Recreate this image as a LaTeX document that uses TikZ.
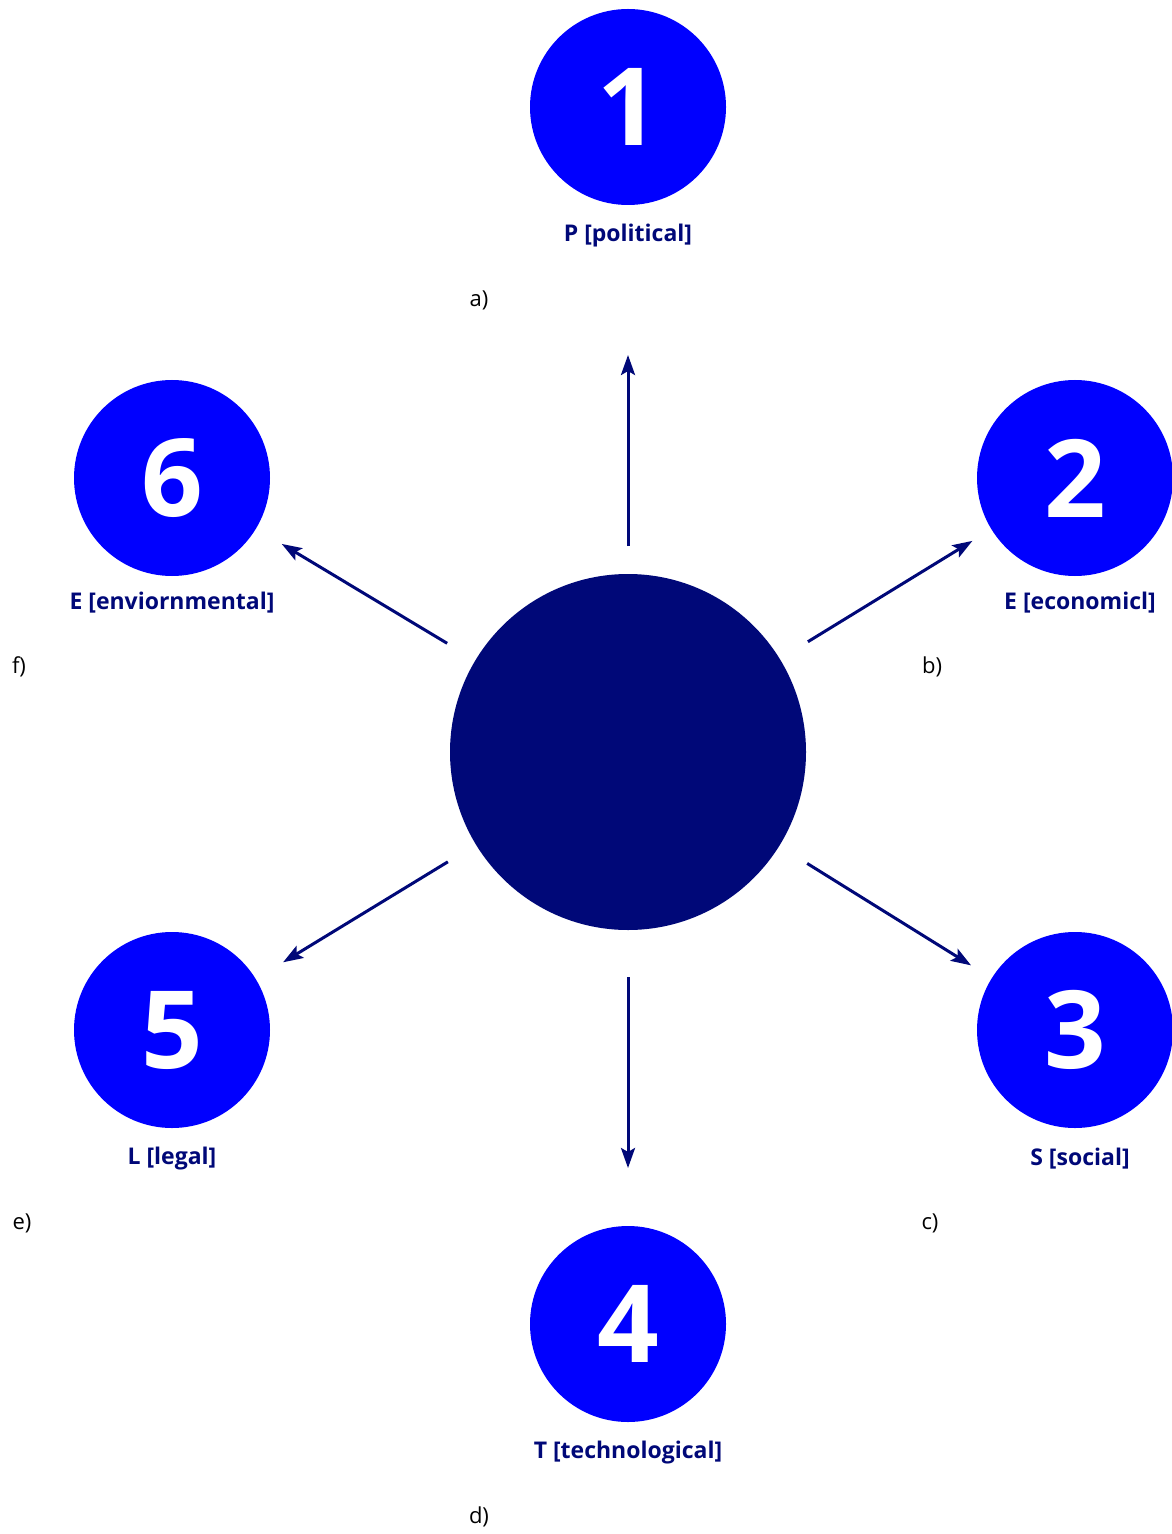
\documentclass[tikz,border=0pt]{standalone}
\usepackage{fontspec}
\setmainfont{Open Sans}
\usetikzlibrary{arrows.meta,calc}
\definecolor{pestblue}{RGB}{0,0,255}
\definecolor{pestnavy}{RGB}{0,8,120}
\tikzset{factor/.style={circle,fill=pestblue,minimum size=98pt,inner sep=0pt,text=white,font=\fontsize{54}{54}\selectfont\bfseries},
hub/.style={circle,fill=pestnavy,minimum size=178pt,inner sep=0pt},
caption/.style={text=pestnavy,font=\fontsize{11.5}{14}\selectfont\bfseries},
tag/.style={font=\fontsize{11}{13}\selectfont},
arr/.style={-{Stealth[length=10pt,width=7pt,inset=2pt]},line width=1.5pt,draw=pestnavy}}
\begin{document}
\begin{tikzpicture}[x=0.5pt,y=-0.5pt]
\useasboundingbox (0,0) rectangle (1171,1534);
% centre
\node[hub] (c) at (628,752) {};
% the six factors
\node[factor] (p1) at (628,107) {1};
\node[factor] (p2) at (1075,478) {2};
\node[factor] (p3) at (1075,1030) {3};
\node[factor] (p4) at (628,1324) {4};
\node[factor] (p5) at (172,1030) {5};
\node[factor] (p6) at (172,478) {6};
\node[caption] (l1) at (628,236) {P [political]};
\node[caption] (l2) at (1080,603) {E [economicl]};
\node[caption] (l3) at (1080,1159) {S [social]};
\node[caption] (l4) at (628,1453) {T [technological]};
\node[caption] (l5) at (172,1159) {L [legal]};
\node[caption] (l6) at (172,603) {E [enviornmental]};
\node[tag] (ta) at (479,300) {a)};
\node[tag] (tb) at (932,667) {b)};
\node[tag] (tc) at (930,1223) {c)};
\node[tag] (td) at (479,1517) {d)};
\node[tag] (te) at (22,1223) {e)};
\node[tag] (tf) at (19,667) {f)};
% arrows
\draw[arr] ($(c)!103pt!(p1)$) -- ($(c)!198.5pt!(p1)$);
\draw[arr] ($(c)!112.5pt!(p4)$) -- ($(c)!208pt!(p4)$);
\foreach \p in {p2,p3,p5,p6}
  \draw[arr] ($(c)!105.5pt!(\p)$) -- ($(c)!202pt!(\p)$);
\end{tikzpicture}
\end{document}
